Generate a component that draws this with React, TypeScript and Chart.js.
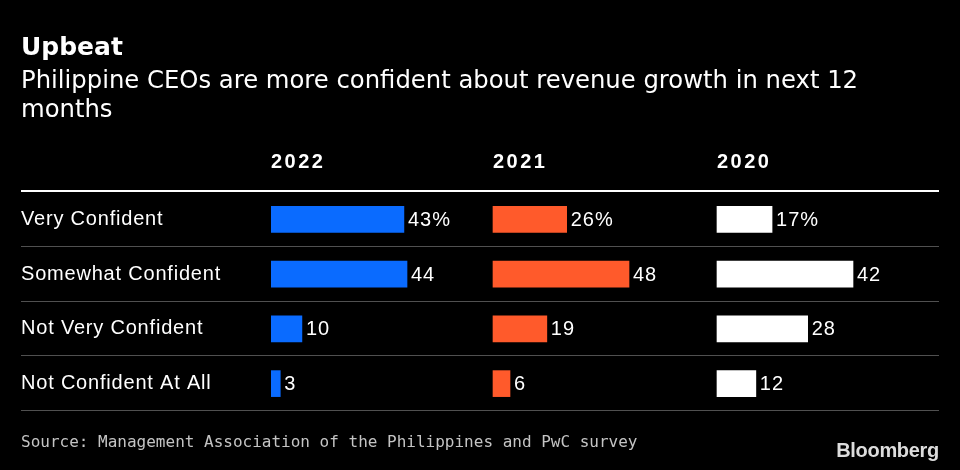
import React, { useEffect, useRef } from "react";
import { Chart, registerables } from "chart.js";

Chart.register(...registerables);

const title = "Upbeat";
const subtitleLines = [
  "Philippine CEOs are more confident about revenue growth in next 12",
  "months",
];
const categories = [
  "Very Confident",
  "Somewhat Confident",
  "Not Very Confident",
  "Not Confident At All",
];
const years = ["2022", "2021", "2020"];
const values2022 = [43, 44, 10, 3];
const values2021 = [26, 48, 19, 6];
const values2020 = [17, 42, 28, 12];
const seriesColors = ["#0A6BFF", "#FF5A2B", "#FFFFFF"];
const sourceText =
  "Source: Management Association of the Philippines and PwC survey";
const brandText = "Bloomberg";

const W = 960;
const H = 470;
const LEFT = 21;
const RIGHT = 939;
const PLOT_LEFT = 271;
const PLOT_TOP = 192;
const PLOT_BOTTOM = 411;
const PANEL_OFFSETS = [0, 222, 446];
const BAR_MAX_PX = 136;

const SANS = '"Liberation Sans", Arial, sans-serif';

function setSpacing(ctx: any, v: string) {
  try {
    ctx.letterSpacing = v;
  } catch (e) {}
}

export default function App() {
  const ref = useRef<HTMLCanvasElement | null>(null);

  useEffect(() => {
    document.body.style.margin = "0";
    document.body.style.background = "#000";
    const canvas = ref.current;
    if (!canvas) return;

    const series = [values2022, values2021, values2020];
    const plotWidth = RIGHT - PLOT_LEFT;

    const xScales: any = {};
    series.forEach((vals, i) => {
      const ppu = BAR_MAX_PX / Math.max(...vals);
      const off = PANEL_OFFSETS[i];
      xScales["x" + i] = {
        type: "linear",
        axis: "x",
        position: "bottom",
        display: false,
        min: -off / ppu,
        max: (plotWidth - off) / ppu,
      };
    });

    const decor = {
      id: "decor",
      beforeDraw(chart: any) {
        const ctx = chart.ctx;
        ctx.save();
        ctx.fillStyle = "#000";
        ctx.fillRect(0, 0, W, H);
        ctx.restore();
        setSpacing(ctx, "0.8px");
      },
      afterDraw(chart: any) {
        const ctx = chart.ctx;
        const yScale = chart.scales.y;
        const area = chart.chartArea;
        ctx.save();
        setSpacing(ctx, "0px");

        // row separators
        const n = categories.length;
        ctx.strokeStyle = "#505050";
        ctx.lineWidth = 1;
        for (let i = 0; i < n; i++) {
          let yb: number;
          if (i < n - 1) {
            yb = (yScale.getPixelForTick(i) + yScale.getPixelForTick(i + 1)) / 2;
          } else {
            yb = area.bottom;
          }
          const yy = Math.round(yb) - 0.5;
          ctx.beginPath();
          ctx.moveTo(LEFT, yy);
          ctx.lineTo(RIGHT, yy);
          ctx.stroke();
        }
        // header rule
        ctx.strokeStyle = "#ffffff";
        ctx.lineWidth = 2;
        ctx.beginPath();
        ctx.moveTo(LEFT, area.top - 1);
        ctx.lineTo(RIGHT, area.top - 1);
        ctx.stroke();

        // column headers
        ctx.fillStyle = "#ffffff";
        ctx.font = "bold 20px " + SANS;
        setSpacing(ctx, "2.5px");
        ctx.textAlign = "left";
        ctx.textBaseline = "middle";
        years.forEach((yr, i) => {
          const x = chart.scales["x" + i].getPixelForValue(0);
          ctx.fillText(yr, x, 162);
        });

        // value labels
        ctx.font = "20px " + SANS;
        setSpacing(ctx, "1px");
        series.forEach((vals, i) => {
          const meta = chart.getDatasetMeta(i);
          meta.data.forEach((bar: any, j: number) => {
            const txt = j === 0 ? vals[j] + "%" : String(vals[j]);
            ctx.fillText(txt, bar.x + 4, bar.y + 1);
          });
        });

        // title
        setSpacing(ctx, "0px");
        ctx.textBaseline = "alphabetic";
        ctx.font = 'bold 25px "DejaVu Sans", sans-serif';
        ctx.fillText(title, LEFT, 55);
        ctx.font = '24.3px "DejaVu Sans", sans-serif';
        subtitleLines.forEach((line, i) => {
          ctx.fillText(line, LEFT, 88 + i * 29);
        });

        // source
        ctx.fillStyle = "#c4c4c4";
        ctx.font = '16px "DejaVu Sans Mono", monospace';
        ctx.fillText(sourceText, LEFT, 447);

        // brand
        ctx.fillStyle = "#dcdcdc";
        ctx.font = "bold 20px " + SANS;
        ctx.textAlign = "right";
        setSpacing(ctx, "-0.3px");
        ctx.fillText(brandText, RIGHT, 457);
        ctx.restore();
      },
    };

    const chart = new Chart(canvas, {
      type: "bar",
      data: {
        labels: categories,
        datasets: series.map((vals, i) => ({
          label: years[i],
          data: vals,
          backgroundColor: seriesColors[i],
          borderWidth: 0,
          xAxisID: "x" + i,
          grouped: false,
          barThickness: 26,
        })),
      },
      options: {
        indexAxis: "y",
        responsive: false,
        devicePixelRatio: 1,
        animation: false,
        layout: {
          padding: {
            left: LEFT,
            right: W - RIGHT,
            top: PLOT_TOP,
            bottom: H - PLOT_BOTTOM,
          },
        },
        plugins: {
          legend: { display: false },
          tooltip: { enabled: false },
          title: { display: false },
        },
        scales: {
          ...xScales,
          y: {
            type: "category",
            position: "left",
            grid: { display: false },
            border: { display: false },
            ticks: {
              color: "#ffffff",
              crossAlign: "far",
              padding: 0,
              font: { family: SANS, size: 20 },
            },
            afterFit(scale: any) {
              scale.width = PLOT_LEFT - LEFT;
            },
          },
        },
      } as any,
      plugins: [decor],
    });

    return () => chart.destroy();
  }, []);

  return (
    <div style={{ width: W, height: H, background: "#000" }}>
      <canvas ref={ref} width={W} height={H} style={{ display: "block" }} />
    </div>
  );
}
